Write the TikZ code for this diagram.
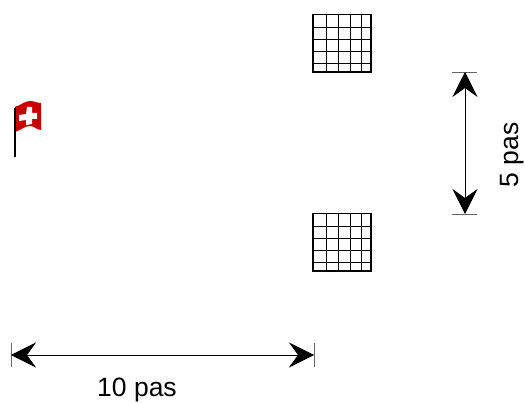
\documentclass[tikz,border=0pt]{standalone}
\usepackage{fontspec}
\setmainfont{Liberation Sans}
\usetikzlibrary{arrows.meta}
\usetikzlibrary{positioning}

\tikzset{
cote/.style={line width=0.8pt,{Stealth[length=25pt,width=25pt,inset=9pt]}-{Stealth[length=25pt,width=25pt,inset=9pt]}},
repere/.style={line width=0.9pt,black!60},
cible/.style={draw,line width=1.8pt,minimum size=57.5pt,inner sep=0pt,outer sep=0pt},
legende/.style={font=\fontsize{26.5}{30}\selectfont,inner sep=0pt},
}

\begin{document}
\begin{tikzpicture}[x=1pt,y=-1pt]
\useasboundingbox (0,0) rectangle (525,403);

% les deux cibles
\foreach \nom/\haut in {cibleA/14.5,cibleB/213.5}
{
\node[cible] (\nom) at (342,\haut+28.75) {};
\foreach \dx in {13,25,37,48}
    \draw[line width=0.75pt] ([xshift=\dx pt]\nom.north west) -- ([xshift=\dx pt]\nom.south west);
\foreach \dy in {13,25,37,49}
    \draw[line width=0.75pt] ([yshift=-\dy pt]\nom.north west) -- ([yshift=-\dy pt]\nom.north east);
}

% le drapeau
\fill[red!78!black] (15,107) .. controls (21,105) and (25,101) .. (30,101)
    .. controls (34,101) and (37,103) .. (41,103) -- (41,130)
    .. controls (37,130) and (34,126) .. (30,126)
    .. controls (25,126) and (21,130) .. (15,132) -- cycle;
\fill[white] (27,107) -- (32,107) -- (32,113) -- (37,113) -- (37,119) -- (32,119)
    -- (32,124) -- (26,125) -- (26,120) -- (19,121) -- (19,115) -- (26,114) -- cycle;
\draw[line width=2.2pt] (14.7,108) -- (14.7,157);

% 10 pas
\coordinate (h1) at (11,355);
\coordinate (h2) at (314,355);
\draw[repere] (11,343) -- (11,367);
\draw[repere] (314,343) -- (314,367);
\draw[cote] (h1) -- (h2);
\node[legende] (dix) at (137,390) {10 pas};

% 5 pas
\coordinate (v1) at (465,72);
\coordinate (v2) at (465,214);
\draw[repere] (452,72) -- (477,72);
\draw[repere] (452,214) -- (477,214);
\draw[cote] (v1) -- (v2);
\node[legende,rotate=90] (cinq) at (512,155) {5 pas};
\end{tikzpicture}
\end{document}
